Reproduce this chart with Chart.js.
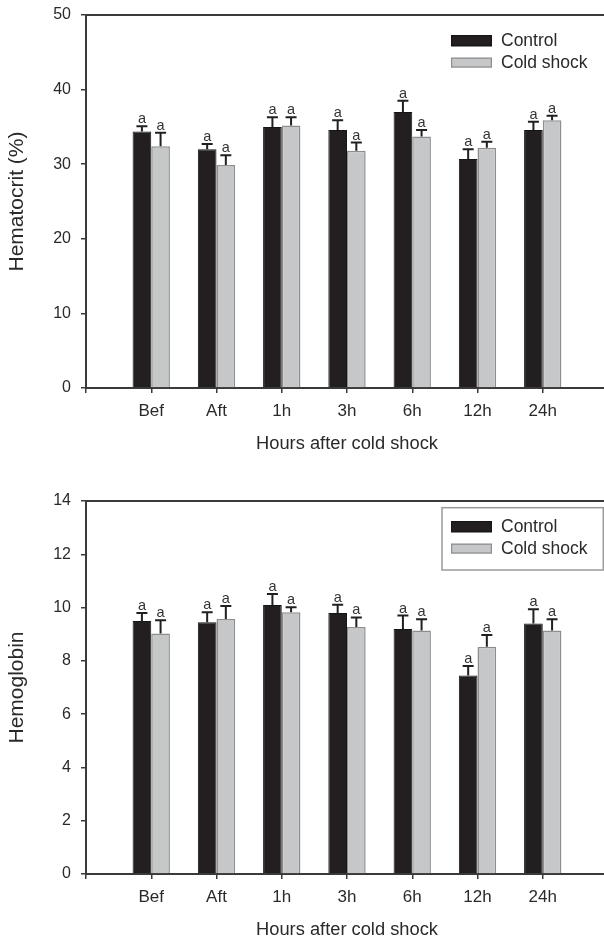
<!DOCTYPE html>
<html>
<head>
<meta charset="utf-8">
<script src="https://cdn.jsdelivr.net/npm/chart.js@4"></script>
<style>
  html, body { margin: 0; padding: 0; background: #fff; overflow: hidden; width: 604px; height: 941px; }
  #wrap { position: relative; width: 604px; height: 941px; overflow: hidden; }
  canvas { position: absolute; left: 0; }
  #c1 { top: 0; }
  #c2 { top: 460px; }
</style>
</head>
<body>
<div id="wrap">
  <canvas id="c1" width="620" height="460"></canvas>
  <canvas id="c2" width="620" height="481"></canvas>
</div>
<script>
// ---- data ----
const categories = ['Bef', 'Aft', '1h', '3h', '6h', '12h', '24h'];
const seriesNames = ['Control', 'Cold shock'];

const hctControl    = [34.4, 32.0, 35.0, 34.6, 37.0, 30.7, 34.6];
const hctControlErr = [0.7, 0.7, 1.3, 1.3, 1.5, 1.3, 1.1];
const hctCold       = [32.4, 29.9, 35.2, 31.8, 33.7, 32.2, 35.9];
const hctColdErr    = [1.8, 1.3, 1.1, 1.1, 0.9, 0.8, 0.6];
const hctControlLetters = ['a', 'a', 'a', 'a', 'a', 'a', 'a'];
const hctColdLetters    = ['a', 'a', 'a', 'a', 'a', 'a', 'a'];
const hctTicks = [0, 10, 20, 30, 40, 50];

const hbControl    = [9.5, 9.45, 10.1, 9.8, 9.2, 7.45, 9.4];
const hbControlErr = [0.3, 0.37, 0.41, 0.31, 0.5, 0.36, 0.54];
const hbCold       = [9.03, 9.57, 9.82, 9.27, 9.14, 8.53, 9.14];
const hbColdErr    = [0.49, 0.49, 0.19, 0.36, 0.42, 0.44, 0.42];
const hbControlLetters = ['a', 'a', 'a', 'a', 'a', 'a', 'a'];
const hbColdLetters    = ['a', 'a', 'a', 'a', 'a', 'a', 'a'];
const hbTicks = [0, 2, 4, 6, 8, 10, 12, 14];

// ---- styling ----
const FONT = "'Liberation Sans', Arial, Helvetica, sans-serif";
const AXIS = '#3a3a3a';
const TEXT = '#2a2a2a';
const CTRL_FILL = '#231f20', CTRL_BORDER = '#151515';
const COLD_FILL = '#c6c7c9', COLD_BORDER = '#8e8e8e';

// pad categories with empty slots so the axis runs 0..8 with groups at 1..7
const labels = [''].concat(categories, ['']);
const pad = arr => [null].concat(arr, [null]);

const errorBarPlugin = {
  id: 'errorBars',
  afterDatasetsDraw(chart) {
    const ctx = chart.ctx;
    const y = chart.scales.y;
    chart.data.datasets.forEach((ds, i) => {
      const meta = chart.getDatasetMeta(i);
      meta.data.forEach((el, j) => {
        const v = ds.data[j];
        if (v === null || v === undefined) return;
        const e = ds.errors[j];
        const top = y.getPixelForValue(v + e);
        ctx.save();
        ctx.strokeStyle = '#231f20';
        ctx.lineWidth = 2;
        ctx.beginPath();
        ctx.moveTo(el.x, el.y);
        ctx.lineTo(el.x, top);
        ctx.moveTo(el.x - 5.5, top);
        ctx.lineTo(el.x + 5.5, top);
        ctx.stroke();
        ctx.fillStyle = '#333';
        ctx.font = '14.5px ' + FONT;
        ctx.textAlign = 'center';
        ctx.textBaseline = 'alphabetic';
        ctx.fillText(ds.letters[j], el.x, top - 3);
        ctx.restore();
      });
    });
  }
};

const framePlugin = {
  id: 'frame',
  afterDraw(chart, args, opts) {
    const {ctx, chartArea: a} = chart;
    ctx.save();
    // top frame line
    ctx.strokeStyle = AXIS;
    ctx.lineWidth = 2;
    ctx.beginPath();
    ctx.moveTo(a.left - 1, a.top);
    ctx.lineTo(a.right, a.top);
    ctx.stroke();
    // legend
    const sx = a.right - 157, tx = a.right - 107;
    if (opts.box) {
      ctx.strokeStyle = '#9a9a9a';
      ctx.lineWidth = 1.5;
      ctx.strokeRect(a.right - 166, a.top + 6.7, 161.3, 62.3);
    }
    const rows = [
      {y0: a.top + 20.0, h: 11.3, fill: CTRL_FILL, border: CTRL_BORDER},
      {y0: a.top + 42.6, h: 10, fill: COLD_FILL, border: COLD_BORDER}
    ];
    ctx.font = '17.5px ' + FONT;
    ctx.textAlign = 'left';
    ctx.textBaseline = 'middle';
    chart.data.datasets.forEach((ds, i) => {
      const r = rows[i];
      ctx.fillStyle = r.fill;
      ctx.fillRect(sx, r.y0, 41, r.h);
      ctx.strokeStyle = r.border;
      ctx.lineWidth = 1.2;
      ctx.strokeRect(sx + 0.6, r.y0 + 0.6, 39.8, r.h - 1.2);
      ctx.fillStyle = TEXT;
      ctx.fillText(ds.label, tx, r.y0 + r.h / 2 + 0.5);
    });
    ctx.restore();
  }
};

function makeChart(canvasId, ctrl, ctrlErr, ctrlLet, cold, coldErr, coldLet, ticks, yTitle, cfg) {
  return new Chart(document.getElementById(canvasId), {
    type: 'bar',
    data: {
      labels: labels,
      datasets: [
        {label: seriesNames[0], data: pad(ctrl), errors: pad(ctrlErr), letters: pad(ctrlLet),
         backgroundColor: CTRL_FILL, borderColor: CTRL_BORDER, borderWidth: 1},
        {label: seriesNames[1], data: pad(cold), errors: pad(coldErr), letters: pad(coldLet),
         backgroundColor: COLD_FILL, borderColor: COLD_BORDER, borderWidth: 1.5}
      ]
    },
    options: {
      responsive: false,
      animation: false,
      devicePixelRatio: 1,
      categoryPercentage: 0.572,
      barPercentage: 1.0,
      layout: {padding: {left: 0, top: cfg.top, right: 12, bottom: 0}},
      plugins: {legend: {display: false}, tooltip: {enabled: false}, frame: {box: cfg.box}},
      scales: {
        x: {
          type: 'category',
          offset: false,
          afterFit: s => { s.height = cfg.xh; s.paddingLeft = 0; s.paddingRight = 0; },
          grid: {offset: false, drawOnChartArea: false, drawTicks: true, tickLength: 5, color: AXIS, lineWidth: 1.5},
          border: {display: true, color: AXIS, width: 2},
          ticks: {autoSkip: false, maxRotation: 0, padding: 8, color: TEXT, font: {family: FONT, size: 17}},
          title: {display: true, text: 'Hours after cold shock', color: TEXT,
                  font: {family: FONT, size: 18.3}, padding: {top: 0, bottom: cfg.tb}}
        },
        y: {
          min: ticks[0],
          max: ticks[ticks.length - 1],
          afterFit: s => { s.width = 86; s.paddingTop = 0; s.paddingBottom = 0; },
          afterBuildTicks: s => { s.ticks = ticks.map(v => ({value: v})); },
          grid: {drawOnChartArea: false, drawTicks: true, tickLength: 5, color: AXIS, lineWidth: 1.5},
          border: {display: true, color: AXIS, width: 2},
          ticks: {padding: 10, color: TEXT, font: {family: FONT, size: 16}},
          title: {display: true, text: yTitle, color: TEXT,
                  font: {family: FONT, size: 21}, padding: {top: 5, bottom: 0}}
        }
      }
    },
    plugins: [errorBarPlugin, framePlugin]
  });
}

makeChart('c1', hctControl, hctControlErr, hctControlLetters, hctCold, hctColdErr, hctColdLetters,
          hctTicks, 'Hematocrit (%)', {top: 15, xh: 72, tb: 5, box: false});
makeChart('c2', hbControl, hbControlErr, hbControlLetters, hbCold, hbColdErr, hbColdLetters,
          hbTicks, 'Hemoglobin', {top: 41, xh: 67, tb: 0, box: true});
</script>
</body>
</html>
